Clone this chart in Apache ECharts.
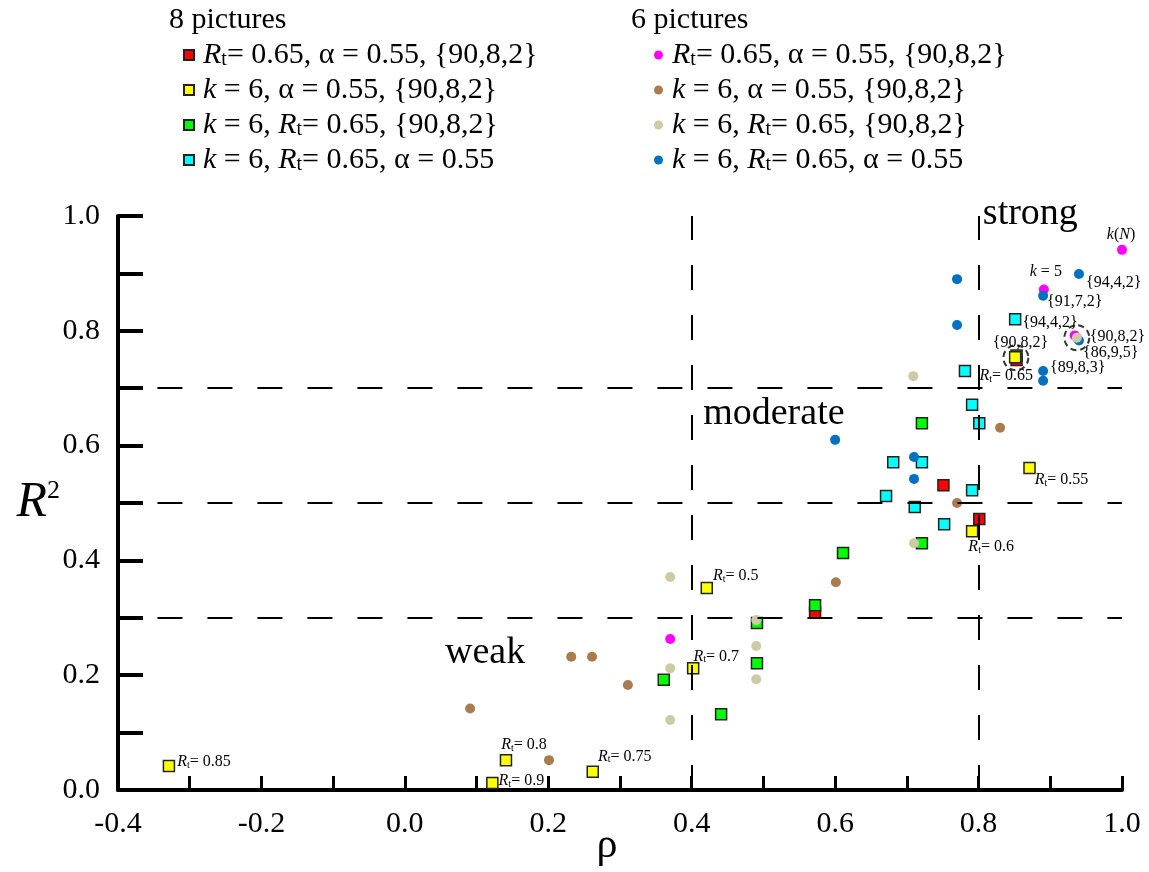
<!DOCTYPE html>
<html>
<head>
<meta charset="utf-8">
<script src="https://cdn.jsdelivr.net/npm/echarts@6/dist/echarts.min.js"></script>
<style>
html, body { margin: 0; padding: 0; background: #fff; }
#chart { width: 1149px; height: 872px; }
</style>
</head>
<body>
<div id="chart"></div>
<script>
// points are [rho, R2]
// 8 pictures (squares)
var redPts = [[0.572, 0.309], [0.751, 0.531], [0.801, 0.472], [0.853, 0.749]];
var yellowPts = [[-0.329, 0.042], [0.122, 0.012], [0.141, 0.052], [0.262, 0.032], [0.402, 0.212], [0.421, 0.352], [0.791, 0.451], [0.871, 0.561], [0.851, 0.754]];
var greenPts = [[0.361, 0.192], [0.441, 0.132], [0.491, 0.291], [0.491, 0.221], [0.572, 0.322], [0.611, 0.413], [0.721, 0.430], [0.721, 0.639], [0.853, 0.757]];
var cyanPts = [[0.671, 0.512], [0.681, 0.571], [0.721, 0.571], [0.711, 0.493], [0.752, 0.463], [0.781, 0.730], [0.791, 0.671], [0.791, 0.522], [0.801, 0.639], [0.851, 0.820]];
// 6 pictures (dots)
var magentaPts = [[0.370, 0.263], [0.891, 0.872], [1.000, 0.941], [0.934, 0.792]];
var brownPts = [[0.091, 0.142], [0.201, 0.052], [0.232, 0.232], [0.261, 0.232], [0.311, 0.183], [0.601, 0.362], [0.770, 0.500], [0.830, 0.631], [0.937, 0.788]];
var beigePts = [[0.370, 0.371], [0.370, 0.212], [0.370, 0.122], [0.490, 0.296], [0.490, 0.251], [0.490, 0.193], [0.709, 0.721], [0.710, 0.430], [0.937, 0.788]];
var bluePts = [[0.600, 0.610], [0.710, 0.580], [0.710, 0.542], [0.770, 0.890], [0.770, 0.810], [0.890, 0.861], [0.940, 0.899], [0.940, 0.783], [0.890, 0.730], [0.890, 0.713]];
var circledPts = [[0.852, 0.753], [0.937, 0.788]];

// point annotations (index in series -> text)
var yellowTags = ['Rt= 0.85', 'Rt= 0.9', 'Rt= 0.8', 'Rt= 0.75', 'Rt= 0.7', 'Rt= 0.5', 'Rt= 0.6', 'Rt= 0.55', 'Rt= 0.65'];
var redTags = { 3: '{90,8,2}' };
var cyanTags = { 9: '{94,4,2}' };
var magentaTags = { 1: 'k = 5', 2: 'k(N)' };
var beigeTags = { 8: '{90,8,2}' };
var blueTags = { 5: '{91,7,2}', 6: '{94,4,2}', 7: '{86,9,5}', 8: '{89,8,3}' };

var legend8 = ['Rt= 0.65, α = 0.55, {90,8,2}', 'k = 6, α = 0.55, {90,8,2}', 'k = 6, Rt= 0.65, {90,8,2}', 'k = 6, Rt= 0.65, α = 0.55'];
var legend6 = ['Rt= 0.65, α = 0.55, {90,8,2}', 'k = 6, α = 0.55, {90,8,2}', 'k = 6, Rt= 0.65, {90,8,2}', 'k = 6, Rt= 0.65, α = 0.55'];

var regionNames = ['strong', 'moderate', 'weak'];
var regionAt = [[0.806, 1.003], [0.416, 0.655], [0.056, 0.239]];

var cutR2 = [0.3, 0.5, 0.7];
var cutRho = [0.4, 0.8];

var xTicks = { min: -0.4, max: 1.0, step: 0.1 };
var yTicks = { min: 0, max: 1.0, step: 0.1 };

//**********************************************************************
var FONT = '"Liberation Serif", "Times New Roman", serif';

function rich(s) {
	return s.replace(/Rt/g, '{i|R}{s|t}').replace(/\bk\b/, '{i|k}').replace('(N)', '({i|N})');
}

function tagRich(size) {
	return {
		i: { fontStyle: 'italic', fontSize: size, fontFamily: FONT, color: '#000' },
		s: { fontSize: Math.round(size * 0.65), fontFamily: FONT, color: '#000', verticalAlign: 'bottom', lineHeight: Math.round(size * 0.6) }
	};
}

// label placement for annotated points: [position, dx, dy]
var yellowPlace = [['right', -3, -4], ['right', -5, -2], ['right', -16, -15], ['right', -6, -15], ['right', -11, -12],
	['right', -5, -12], ['right', -15, 16], ['right', -6, 12], ['right', -47, 19]];
var redPlace = { 3: ['right', -35, -17] };
var cyanPlace = { 9: ['right', -4, 3] };
var magentaPlace = { 1: ['top', 2, 0], 2: ['top', -1, 3] };
var beigePlace = { 8: ['right', 3, -1] };
var bluePlace = { 5: ['right', -6, 6], 6: ['right', -3, 9], 7: ['right', -6, 12], 8: ['right', -3, -3] };

function withTags(pts, tags, place) {
	return pts.map(function (p, i) {
		if (tags[i] === undefined) {
			return { value: p };
		}
		var pl = place[i];
		return {
			value: p,
			label: {
				show: true,
				position: pl[0],
				offset: [pl[1], pl[2]],
				formatter: rich(tags[i]),
				fontSize: 16,
				fontFamily: FONT,
				color: '#000',
				rich: tagRich(16)
			}
		};
	});
}

function squareSeries(name, color, data) {
	return {
		name: name,
		type: 'scatter',
		symbol: 'rect',
		symbolSize: 11,
		itemStyle: { color: color, borderColor: '#222', borderWidth: 1.5, opacity: 1 },
		data: data
	};
}

function dotSeries(name, color, data) {
	return {
		name: name,
		type: 'scatter',
		symbol: 'circle',
		symbolSize: 10,
		itemStyle: { color: color, opacity: 1 },
		data: data
	};
}

var lineStyle = { color: '#000', width: 2, type: [25, 25] };
var cutLines = [];
cutR2.forEach(function (v) {
	cutLines.push([{ coord: [-0.345, v] }, { coord: [1.0, v] }]);
});
cutRho.forEach(function (v) {
	cutLines.push([{ coord: [v, 0] }, { coord: [v, 1.0] }]);
});

function tickLabel(v) {
	var k = Math.round(v * 10);
	if (k % 2 !== 0) return '';
	return (k / 10).toFixed(1);
}

var legendBase = {
	orient: 'vertical',
	top: 35,
	itemGap: 5,
	selectedMode: false,
	textStyle: {
		fontSize: 30, fontFamily: FONT, color: '#000',
		rich: tagRich(30)
	}
};

var titleStyle = { fontSize: 30, fontWeight: 'normal', fontFamily: FONT, color: '#000' };

var option = {
	animation: false,
	backgroundColor: '#fff',
	title: [
		{ text: '8 pictures', left: 169, top: 5, padding: 0, textStyle: titleStyle },
		{ text: '6 pictures', left: 631, top: 5, padding: 0, textStyle: titleStyle }
	],
	legend: [
		Object.assign({}, legendBase, {
			left: 178, itemWidth: 10, itemHeight: 10,
			data: ['A1', 'A2', 'A3', 'A4'],
			textStyle: Object.assign({}, legendBase.textStyle, { padding: [0, 0, 0, 4] }),
			formatter: function (n) { return rich(legend8[+n.slice(1) - 1]); }
		}),
		Object.assign({}, legendBase, {
			left: 649, itemWidth: 9, itemHeight: 9,
			data: ['B1', 'B2', 'B3', 'B4'],
			textStyle: Object.assign({}, legendBase.textStyle, { padding: [0, 0, 0, 4] }),
			formatter: function (n) { return rich(legend6[+n.slice(1) - 1]); }
		})
	],
	grid: { left: 118, right: 27, top: 216, bottom: 82, outerBoundsMode: 'none' },
	xAxis: {
		type: 'value',
		min: xTicks.min, max: xTicks.max, interval: xTicks.step,
		name: 'ρ',
		nameLocation: 'middle',
		nameGap: 35,
		nameMoveOverlap: false,
		nameTextStyle: { fontSize: 42, fontFamily: FONT, color: '#000', padding: [0, 26, 0, 0] },
		axisLine: { show: true, onZero: false, lineStyle: { color: '#000', width: 4 } },
		axisTick: { show: true, inside: true, length: 14, lineStyle: { color: '#000', width: 3 } },
		axisLabel: { formatter: tickLabel, fontSize: 30, fontFamily: FONT, color: '#000', margin: 19, showMinLabel: true, showMaxLabel: true },
		splitLine: { show: false }
	},
	yAxis: {
		type: 'value',
		min: yTicks.min, max: yTicks.max, interval: yTicks.step,
		name: '{r|R}{p|2}',
		nameLocation: 'middle',
		nameRotate: 0,
		nameGap: 58,
		nameMoveOverlap: false,
		nameTextStyle: {
			fontFamily: FONT, color: '#000',
			rich: {
				r: { fontSize: 50, fontStyle: 'italic', fontFamily: FONT, color: '#000' },
				p: { fontSize: 26, fontFamily: FONT, color: '#000', verticalAlign: 'top', lineHeight: 26 }
			}
		},
		axisLine: { show: true, onZero: false, lineStyle: { color: '#000', width: 4 } },
		axisTick: { show: true, inside: true, length: 25, lineStyle: { color: '#000', width: 4 } },
		axisLabel: { formatter: tickLabel, fontSize: 30, fontFamily: FONT, color: '#000', margin: 18, showMinLabel: true, showMaxLabel: true },
		splitLine: { show: false }
	},
	series: [
		{
			type: 'scatter',
			silent: true,
			data: [],
			markLine: {
				silent: true,
				symbol: ['none', 'none'],
				label: { show: false },
				lineStyle: lineStyle,
				data: cutLines
			}
		},
		{
			type: 'scatter',
			silent: true,
			clip: false,
			symbolSize: 0,
			itemStyle: { opacity: 1 },
			data: regionAt.map(function (p, i) { return { value: p, name: regionNames[i] }; }),
			label: {
				show: true, position: 'right', distance: 0, opacity: 1,
				formatter: '{b}', fontSize: 38, fontFamily: FONT, color: '#000', textBorderWidth: 0
			}
		},
		squareSeries('A1', '#ff0000', withTags(redPts, redTags, redPlace)),
		squareSeries('A3', '#00ff00', withTags(greenPts, {}, {})),
		squareSeries('A2', '#ffff00', withTags(yellowPts, yellowTags, yellowPlace)),
		squareSeries('A4', '#00ffff', withTags(cyanPts, cyanTags, cyanPlace)),
		dotSeries('B2', '#a97c50', withTags(brownPts, {}, {})),
		dotSeries('B1', '#ff00ff', withTags(magentaPts, magentaTags, magentaPlace)),
		dotSeries('B4', '#0070c0', withTags(bluePts, blueTags, bluePlace)),
		dotSeries('B3', '#cfcaa6', withTags(beigePts, beigeTags, beigePlace)),
		{
			type: 'scatter',
			silent: true,
			symbol: 'circle',
			symbolSize: 25,
			z: 5,
			itemStyle: { color: 'rgba(0,0,0,0)', borderColor: '#000', borderWidth: 2, borderType: [6, 4] },
			data: circledPts
		}
	]
};

var myChart = echarts.init(document.getElementById('chart'));
myChart.setOption(option);
</script>
</body>
</html>
